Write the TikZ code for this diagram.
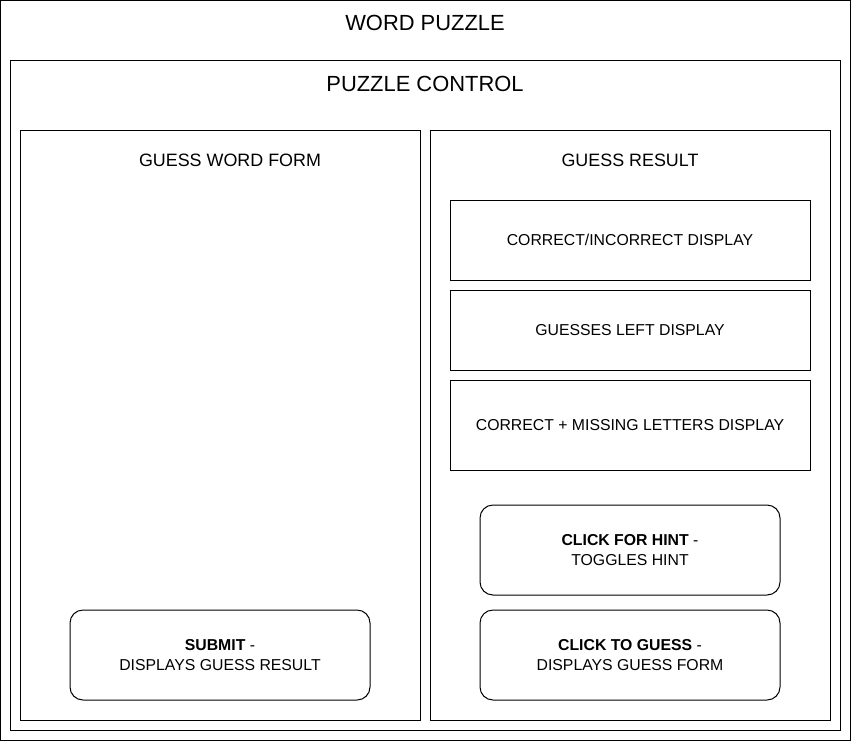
\documentclass[tikz,border=0pt]{standalone}
\usepackage{fontspec}
\setmainfont{Liberation Sans}
\begin{document}
\begin{tikzpicture}[x=1pt,y=-1pt,
  frame/.style={draw=black,line width=1pt,inner sep=0pt,fill=none},
  box/.style={draw=black,line width=1pt,inner sep=0pt,minimum width=360pt,minimum height=80pt,font=\fontsize{15.8}{20}\selectfont,align=center},
  rbox/.style={draw=black,line width=1pt,inner sep=0pt,rounded corners=13pt,minimum width=300pt,minimum height=90pt,font=\fontsize{15.8}{20}\selectfont,align=center},
  bigtitle/.style={font=\fontsize{21.9}{26}\selectfont},
  subtitle/.style={font=\fontsize{17.9}{21}\selectfont}]
\useasboundingbox (0,0) rectangle (851,742);
\fill[white] (0,0) rectangle (851,742);
% containers
\node[frame,minimum width=850pt,minimum height=740pt] (outer) at (425.5,370.5) {};
\node[frame,minimum width=830pt,minimum height=670pt] (control) at (425,395) {};
\node[frame,minimum width=400pt,minimum height=590pt] (form) at (220,425) {};
\node[frame,minimum width=400pt,minimum height=590pt] (result) at (630,425) {};
% titles
\node[bigtitle] (t1) at (425,23) {WORD PUZZLE};
\node[bigtitle] (t2) at (425,84) {PUZZLE CONTROL};
\node[subtitle] (t3) at (230,160) {GUESS WORD FORM};
\node[subtitle] (t4) at (630,160) {GUESS RESULT};
% result boxes
\node[box] (b1) at (630,240) {CORRECT/INCORRECT DISPLAY};
\node[box] (b2) at (630,330) {GUESSES LEFT DISPLAY};
\node[box,minimum height=90pt] (b3) at (630,425) {CORRECT + MISSING LETTERS DISPLAY};
% buttons
\node[rbox] (hint) at (630,550) {\textbf{CLICK FOR HINT} -\\TOGGLES HINT};
\node[rbox] (guess) at (630,655) {\textbf{CLICK TO GUESS} -\\DISPLAYS GUESS FORM};
\node[rbox] (submit) at (220,655) {\textbf{SUBMIT} -\\DISPLAYS GUESS RESULT};
\end{tikzpicture}
\end{document}
